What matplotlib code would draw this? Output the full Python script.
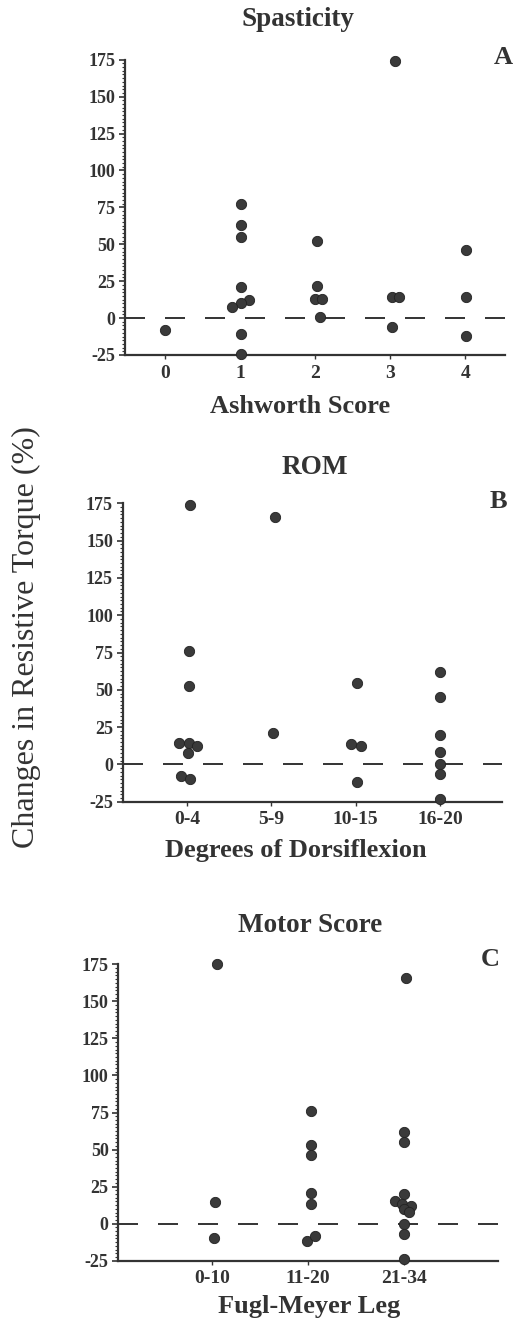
import matplotlib
matplotlib.use("Agg")
import matplotlib.pyplot as plt
from matplotlib.ticker import MultipleLocator
import numpy as np

plt.rcParams['font.family'] = ['Liberation Serif', 'DejaVu Serif']
plt.rcParams['lines.scale_dashes'] = False

W, H = 515, 1321
INK = '#333333'
DOT = '#3a3a3a'

# ---------------- data ----------------
a_labels = ['0', '1', '2', '3', '4']
a_cat = [0, 1, 1, 1, 1, 1, 1, 1, 1, 1, 2, 2, 2, 2, 2, 3, 3, 3, 3, 4, 4, 4]
a_jit = [0.0, 0.02, 0.02, 0.02, 0.01, 0.12, 0.02, -0.1, 0.01, 0.01,
         0.03, 0.03, 0.0, 0.09, 0.07, 0.07, 0.03, 0.12, 0.03, 0.01, 0.01, 0.01]
a_val = [-8, 77, 63, 55, 21, 12, 10, 7.5, -10.5, -24,
         52, 21.5, 13, 13, 0.7, 174, 14, 14, -6, 46, 14, -12]

b_labels = ['0-4', '5-9', '10-15', '16-20']
b_cat = [0, 0, 0, 0, 0, 0, 0, 0, 0, 1, 1, 2, 2, 2, 2, 3, 3, 3, 3, 3, 3, 3]
b_jit = [0.04, 0.02, 0.02, -0.09, 0.02, 0.12, 0.01, -0.07, 0.04, 0.04, 0.02,
         0.02, -0.05, 0.06, 0.01, 0.0, 0.0, 0.0, 0.0, 0.0, 0.0, 0.0]
b_val = [174, 76, 52.5, 14.5, 14.5, 12.5, 7.4, -7.8, -10, 165.6, 20.8,
         54.7, 14, 12.5, -11.7, 61.7, 45.3, 20, 8.5, 0.2, -6.5, -23.5]

c_labels = ['0-10', '11-20', '21-34']
c_cat = [0, 0, 0, 1, 1, 1, 1, 1, 1, 1, 2, 2, 2, 2, 2, 2, 2, 2, 2, 2, 2, 2]
c_jit = [0.05, 0.03, 0.02, 0.03, 0.03, 0.03, 0.03, 0.03, -0.01, 0.08,
         0.03, 0.01, 0.01, 0.0, -0.09, -0.02, 0.08, 0.01, 0.06, 0.01, 0.0, 0.0]
c_val = [175, 14.6, -9.7, 76, 53, 46.5, 21, 13, -12, -8.5,
         166, 62, 55, 20, 15, 13, 12, 10, 8, 0, -7, -24]

y_ticks = [-25, 0, 25, 50, 75, 100, 125, 150, 175]

panels = [
    dict(labels=a_labels, cat=a_cat, jit=a_jit, val=a_val,
         box=(125, 505, 59.7, 355), xlim=(-0.53, 4.53),
         title='Spasticity', title_xy=(298, 20), letter='A', letter_xy=(503, 57),
         xlabel='Ashworth Score', xlabel_xy=(300, 407)),
    dict(labels=b_labels, cat=b_cat, jit=b_jit, val=b_val,
         box=(122.7, 501.7, 503.3, 801.7), xlim=(-0.76, 3.73),
         title='ROM', title_xy=(314.7, 467), letter='B', letter_xy=(498, 502),
         xlabel='Degrees of Dorsiflexion', xlabel_xy=(296, 850)),
    dict(labels=c_labels, cat=c_cat, jit=c_jit, val=c_val,
         box=(118.3, 498.3, 964.3, 1260.7), xlim=(-0.98, 2.99),
         title='Motor Score', title_xy=(309.7, 925), letter='C', letter_xy=(490, 960),
         xlabel='Fugl-Meyer Leg', xlabel_xy=(309, 1306)),
]

fig = plt.figure(figsize=(W / 100, H / 100), dpi=100)

def fx(x):
    return x / W

def fy(y):
    return 1 - y / H

for p in panels:
    x0, x1, yt, yb = p['box']
    ax = fig.add_axes([fx(x0), fy(yb), (x1 - x0) / W, (yb - yt) / H])
    xs = np.array(p['cat'], dtype=float) + np.array(p['jit'])
    ax.axhline(0, color=INK, lw=1.4, dashes=(14.4, 14.4), zorder=1)
    ax.scatter(xs, p['val'], s=55, color=DOT, edgecolors='#222222',
               linewidths=0.6, zorder=3, clip_on=False)
    ax.set_xlim(*p['xlim'])
    ax.set_ylim(-25, 175)
    ax.set_xticks(range(len(p['labels'])))
    ax.set_xticklabels(p['labels'])
    ax.set_yticks(y_ticks)
    ax.set_yticklabels([str(t) for t in y_ticks])
    ax.yaxis.set_minor_locator(MultipleLocator(2.5))
    for s in ('top', 'right'):
        ax.spines[s].set_visible(False)
    for s in ('left', 'bottom'):
        ax.spines[s].set_color(INK)
        ax.spines[s].set_linewidth(1.6)
    ax.tick_params(axis='y', which='major', length=4, width=1.2, color=INK,
                   pad=3, labelsize=13, labelcolor=INK)
    ax.tick_params(axis='y', which='minor', length=2, width=0.8, color=INK)
    ax.tick_params(axis='x', which='major', length=3, width=1.0, color=INK,
                   pad=4, labelsize=14, labelcolor=INK)
    for lab in ax.get_xticklabels() + ax.get_yticklabels():
        lab.set_fontweight('bold')
    ax.patch.set_alpha(0)

    fig.text(fx(p['title_xy'][0]), fy(p['title_xy'][1]), p['title'],
             ha='center', va='center', fontsize=19.5, fontweight='bold', color=INK)
    fig.text(fx(p['letter_xy'][0]), fy(p['letter_xy'][1]), p['letter'],
             ha='center', va='center', fontsize=19, fontweight='bold', color=INK)
    fig.text(fx(p['xlabel_xy'][0]), fy(p['xlabel_xy'][1]), p['xlabel'],
             ha='center', va='center', fontsize=19, fontweight='bold', color=INK)

fig.text(fx(26), fy(637), 'Changes in Resistive Torque (%)', rotation=90,
         ha='center', va='center', fontsize=23, color=INK)

fig.savefig('out.png', dpi=100)
